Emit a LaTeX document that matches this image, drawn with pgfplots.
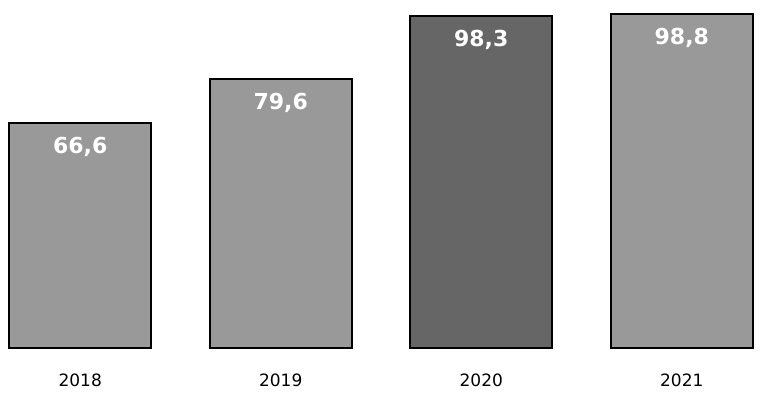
\documentclass[border=0pt]{standalone}
\usepackage{pgfplots}
\pgfplotsset{compat=1.18}
\usepackage{fontspec}
\setmainfont{DejaVu Sans}
\begin{document}
\begin{tikzpicture}
\begin{axis}[
    scale only axis,
    width=381pt, height=174pt,
    xmin=-0.4, xmax=3.4,
    ymin=0, ymax=103,
    xtick={0,1,2,3},
    xticklabels={2018,2019,2020,2021},
    x tick label style={font=\fontsize{8.5}{9}\selectfont, yshift=-5pt},
    ytick=\empty,
    axis line style={draw=none},
    major tick style={draw=none},
    ybar, bar width=71pt,
    bar shift=0pt,
    nodes near coords,
    nodes near coords style={anchor=center, yshift=-12pt, text=white,
        font=\fontsize{11}{12}\selectfont\bfseries,
        /pgf/number format/.cd, fixed, fixed zerofill, precision=1, use comma,
        assume math mode=true},
]
\addplot[draw=black, line width=1pt, fill=black!40] coordinates {(0,66.6) (1,79.6) (3,98.8)};
\addplot[draw=black, line width=1pt, fill=black!60] coordinates {(2,98.3)};
\end{axis}
\pgfresetboundingbox
\path (0,-27.5pt) rectangle (381pt,174pt);
\end{tikzpicture}
\end{document}
